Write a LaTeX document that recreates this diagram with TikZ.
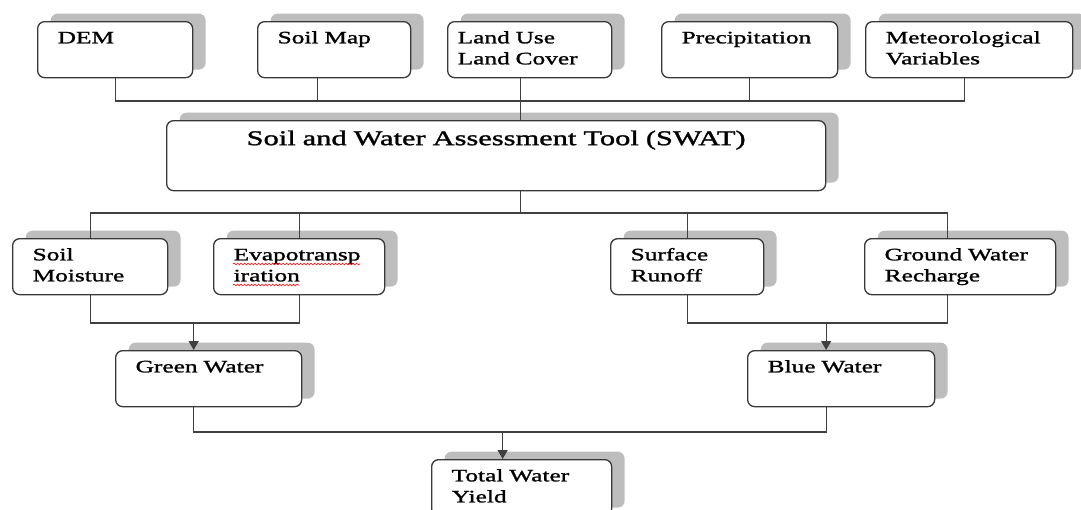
\documentclass[tikz,border=0pt]{standalone}
\usepackage{fontspec}
\setmainfont{Liberation Serif}[FakeStretch=1.45, FakeBold=1.4]
\usetikzlibrary{arrows.meta,shadows,decorations.pathmorphing}
\hyphenpenalty=10000

\begin{document}
\begin{tikzpicture}[x=1pt, y=-1pt,
  box/.style={draw=black!78, line width=1.3pt, fill=white, rounded corners=7pt, anchor=north west,
    align=left, inner xsep=20pt, inner ysep=0pt, minimum height=56pt,
    font=\fontsize{17.5}{21}\selectfont,
    drop shadow={shadow xshift=13pt, shadow yshift=8pt, fill=black!26, opacity=1, draw=none}},
  link/.style={draw=black!75, line width=1.3pt},
  flow/.style={link, -{Triangle[length=9pt, width=10pt]}},
  spell/.style={red, line width=0.6pt, decorate, decoration={snake, segment length=3.5pt, amplitude=0.9pt}}]
  \path[use as bounding box, clip] (0,0) rectangle (1081,509);
  \coordinate (bus1) at (0,101);
  \coordinate (bus2) at (0,213);
  \coordinate (join1) at (0,323);
  \coordinate (bus3) at (0,432);

  \node[box, text width=115pt] (dem) at (37,21) {\strut DEM\\\strut};
  \node[box, text width=113pt] (soilmap) at (257,21) {\strut Soil Map\\\strut};
  \node[box, inner xsep=10pt, text width=144pt] (lulc) at (447,21) {\strut Land Use\\\strut Land Cover};
  \node[box, text width=136pt] (precip) at (661,21) {\strut Precipitation\\\strut};
  \node[box, text width=167pt] (meteo) at (865,21) {\strut Meteorological\\\strut Variables};
  \node[box, align=center, text width=619pt, minimum height=66pt, font=\fontsize{21}{35}\selectfont] (swat) at (166,120)
        {\strut Soil and Water Assessment Tool (SWAT)\\\strut};

  \node[box, text width=115pt] (moist) at (12,238) {\strut Soil\\\strut Moisture};
  \node[box, text width=131pt] (evap) at (213,238) {\strut Evapotransp\\\strut iration};
  \node[box, text width=113pt] (runoff) at (610,238) {\strut Surface\\\strut Runoff};
  \node[box, text width=151pt] (recharge) at (864,238) {\strut Ground Water\\\strut Recharge};
  \node[box, text width=146pt] (green) at (115,350) {\strut Green Water\\\strut};
  \node[box, text width=147pt] (blue) at (747,350) {\strut Blue Water\\\strut};
  \node[box, text width=140pt] (total) at (431,459) {\strut Total Water\\\strut Yield};

  \draw[spell] ([xshift=20pt, yshift=-26pt]evap.north west) -- ++(127,0);
  \draw[spell] ([xshift=20pt, yshift=-47pt]evap.north west) -- ++(66,0);

  \draw[link] (dem.south) -- (dem.south |- bus1) -- ([xshift=-5pt]meteo.south |- bus1) -- ([xshift=-5pt]meteo.south);
  \draw[link] ([xshift=-17pt]soilmap.south) -- ([xshift=-17pt]soilmap.south |- bus1);
  \draw[link] (precip.south) -- (precip.south |- bus1);
  \draw[link] ([xshift=-9pt]lulc.south) -- ([xshift=-9pt]lulc.south |- swat.north);

  \draw[link] ([xshift=24pt]swat.south) -- ([xshift=24pt]swat.south |- bus2);
  \draw[link] (moist.north) -- (moist.north |- bus2) -- ([xshift=-13pt]recharge.north |- bus2) -- ([xshift=-13pt]recharge.north);
  \draw[link] (evap.north) -- (evap.north |- bus2);
  \draw[link] (runoff.north) -- (runoff.north |- bus2);

  \draw[link] (moist.south) -- (moist.south |- join1) -- (evap.south |- join1) -- (evap.south);
  \draw[flow] ([xshift=-15pt]green.north |- join1) -- ([xshift=-15pt]green.north);
  \draw[link] (runoff.south) -- (runoff.south |- join1) -- ([xshift=-13pt]recharge.south |- join1) -- ([xshift=-13pt]recharge.south);
  \draw[flow] ([xshift=-15pt]blue.north |- join1) -- ([xshift=-15pt]blue.north);
  \draw[link] ([xshift=-15pt]green.south) -- ([xshift=-15pt]green.south |- bus3) -- ([xshift=-15pt]blue.south |- bus3) -- ([xshift=-15pt]blue.south);
  \draw[flow] ([xshift=-19pt]total.north |- bus3) -- ([xshift=-19pt]total.north);
\end{tikzpicture}
\end{document}
